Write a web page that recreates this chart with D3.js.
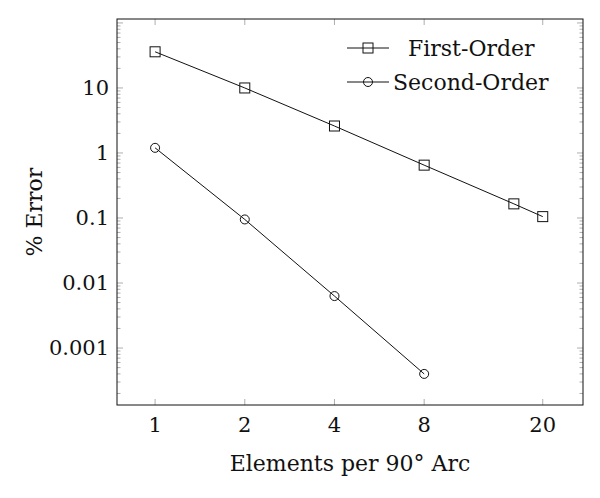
<!DOCTYPE html>
<html>
<head>
<meta charset="UTF-8">
<script src="https://d3js.org/d3.v7.min.js"></script>
<style>
  body { margin: 0; background: #fff; }
  text { font-family: "DejaVu Serif", "Liberation Serif", serif; fill: #111; }
</style>
</head>
<body>
<svg id="chart" width="600" height="498"></svg>
<script>
// data
const firstX = [1, 2, 4, 8, 16, 20];
const firstY = [36, 10, 2.6, 0.65, 0.165, 0.105];
const secondX = [1, 2, 4, 8];
const secondY = [1.2, 0.095, 0.0063, 0.0004];
const xTicks = [1, 2, 4, 8, 20];
const yTicks = [10, 1, 0.1, 0.01, 0.001];
const yTickLabels = ["10", "1", "0.1", "0.01", "0.001"];

const svg = d3.select('#chart');
const plotLeft = 117, plotRight = 583, plotTop = 19, plotBottom = 405;

const x = d3.scaleLog().domain([0.745, 27.3]).range([plotLeft, plotRight]);
const y = d3.scaleLog().domain([1.33e-4, 115]).range([plotBottom, plotTop]);

// minor ticks on y (both sides)
const minor = [];
for (let e = -4; e <= 2; e++) {
    for (let m = 1; m <= 9; m++) {
        const v = m * Math.pow(10, e);
        if (v >= y.domain()[0] && v <= y.domain()[1]) minor.push({ v: v, major: m === 1 });
    }
}
const tickColor = '#999';
minor.forEach(t => {
    const len = t.major ? 6 : 3.5;
    [[plotLeft, plotLeft + len], [plotRight, plotRight - len]].forEach(p => {
        svg.append('line').attr('x1', p[0]).attr('x2', p[1])
            .attr('y1', y(t.v)).attr('y2', y(t.v))
            .attr('stroke', tickColor).attr('stroke-width', 0.8);
    });
});
// x ticks top and bottom
xTicks.forEach(v => {
    [[plotBottom, plotBottom - 6], [plotTop, plotTop + 6]].forEach(p => {
        svg.append('line').attr('x1', x(v)).attr('x2', x(v))
            .attr('y1', p[0]).attr('y2', p[1])
            .attr('stroke', tickColor).attr('stroke-width', 0.8);
    });
    svg.append('text').attr('x', x(v)).attr('y', plotBottom + 27)
        .attr('text-anchor', 'middle').attr('font-size', 21).text(v);
});
yTicks.forEach((v, i) => {
    svg.append('text').attr('x', plotLeft - 8).attr('y', y(v) + 7)
        .attr('text-anchor', 'end').attr('font-size', 21).text(yTickLabels[i]);
});

svg.append('rect').attr('x', plotLeft).attr('y', plotTop)
    .attr('width', plotRight - plotLeft).attr('height', plotBottom - plotTop)
    .attr('fill', 'none').attr('stroke', '#111').attr('stroke-width', 1);

// axis titles
svg.append('text').attr('x', (plotLeft + plotRight) / 2).attr('y', 471)
    .attr('text-anchor', 'middle').attr('font-size', 22).text('Elements per 90° Arc');
svg.append('text').attr('transform', `translate(42,${(plotTop + plotBottom) / 2}) rotate(-90)`)
    .attr('text-anchor', 'middle').attr('font-size', 22).text('% Error');

const line = d3.line().x(d => x(d[0])).y(d => y(d[1]));
const s1 = firstX.map((v, i) => [v, firstY[i]]);
const s2 = secondX.map((v, i) => [v, secondY[i]]);

function drawSeries(pts, shape) {
    svg.append('path').datum(pts).attr('d', line)
        .attr('fill', 'none').attr('stroke', '#111').attr('stroke-width', 1);
    pts.forEach(p => drawMarker(x(p[0]), y(p[1]), shape));
}
function drawMarker(cx, cy, shape) {
    if (shape === 'square') {
        svg.append('rect').attr('x', cx - 5).attr('y', cy - 5).attr('width', 10).attr('height', 10)
            .attr('fill', 'none').attr('stroke', '#111').attr('stroke-width', 1);
    } else {
        svg.append('circle').attr('cx', cx).attr('cy', cy).attr('r', 4.5)
            .attr('fill', 'none').attr('stroke', '#111').attr('stroke-width', 1);
    }
}
drawSeries(s1, 'square');
drawSeries(s2, 'circle');

// legend
const legend = [['First-Order', 'square', 48], ['Second-Order', 'circle', 82]];
legend.forEach(l => {
    svg.append('line').attr('x1', 347).attr('x2', 389).attr('y1', l[2]).attr('y2', l[2])
        .attr('stroke', '#111').attr('stroke-width', 1);
    drawMarker(368, l[2], l[1]);
    svg.append('text').attr('x', l[1] === 'square' ? 408 : 393).attr('y', l[2] + 8)
        .attr('font-size', 22).text(l[0]);
});
</script>
</body>
</html>
